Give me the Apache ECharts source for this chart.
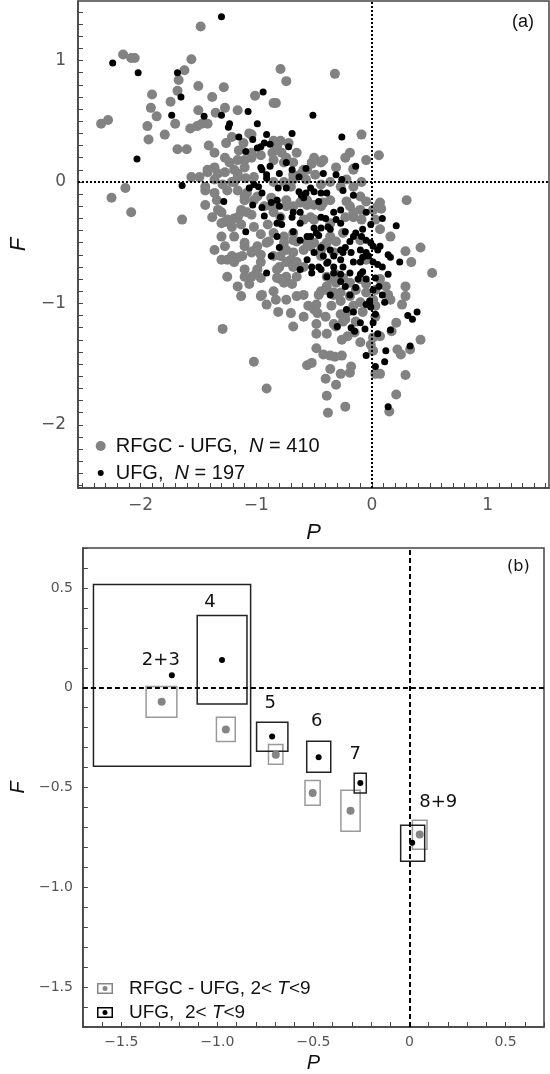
<!DOCTYPE html>
<html>
<head>
<meta charset="utf-8">
<script src="https://cdn.jsdelivr.net/npm/echarts@6/dist/echarts.min.js"></script>
<style>html,body{margin:0;padding:0;background:#fff}#c{width:550px;height:1074px}</style>
</head>
<body>
<div id="c"></div>
<script>
// ---------- Panel (a): individual galaxies [P, F] ----------
const rfgcPF = [
[-2.34,0.48],[-2.28,0.51],[-2.15,1.05],[-2.08,1.02],[-2.05,1.02],[-1.90,0.72],[-1.91,0.61],[-1.86,0.54],[-1.94,0.46],[-1.93,0.35],
[-1.79,0.39],[-1.74,0.66],[-1.68,0.75],[-1.67,0.84],[-1.62,0.92],[-1.56,1.01],[-1.48,1.28],[-1.50,0.79],[-1.38,0.70],[-1.28,0.78],
[-1.70,0.48],[-1.57,0.44],[-1.51,0.46],[-1.47,0.48],[-1.42,0.48],[-1.50,0.59],[-1.35,0.57],[-1.27,0.61],[-1.68,0.27],[-1.60,0.27],
[-1.41,0.30],[-1.16,0.59],[-1.01,0.71],[-0.85,0.65],[-1.26,0.32],[-1.21,0.37],[-1.11,0.32],[-1.04,0.39],[-1.56,0.04],[-1.44,-0.04],
[-1.42,0.08],[-1.33,0.07],[-2.25,-0.13],[-2.13,-0.05],[-2.08,-0.25],[-1.64,-0.31],[-1.44,-0.19],[-1.34,-0.15],[-1.30,-0.25],[-1.27,-0.33],
[-1.19,-0.30],[-1.13,-0.25],[-1.10,-0.15],[-1.25,-0.07],[-1.19,0.00],[-1.16,0.07],[-1.10,0.18],[-1.04,0.20],[-1.10,-0.53],[-1.04,-0.58],
[-1.21,-0.61],[-0.79,0.93],[-0.74,0.83],[-0.32,0.89],[-0.83,0.65],[-0.09,0.39],[0.06,0.22],[-0.79,0.34],[-0.72,0.32],[-0.52,0.15],
[-0.16,0.11],[-0.09,0.00],[0.30,-0.15],[0.07,-0.17],[0.08,-0.22],[0.16,-0.45],[0.29,-0.57],[0.42,-0.54],[-0.16,-0.04],[-0.49,0.06],
[-0.56,0.10],[-0.68,0.06],[-1.06,0.40],[-1.15,0.26],[-0.85,0.34],[-0.86,0.24],[-0.78,0.24],[-1.23,0.16],[-1.16,0.18],[-1.10,0.12],
[-1.19,0.10],[-1.27,0.08],[-1.36,0.12],[-1.42,0.10],[-1.16,0.04],[-1.09,0.03],[-1.02,0.04],[-1.21,0.00],[-1.16,-0.07],[-1.10,-0.12],
[-0.68,0.16],[-0.61,0.07],[-0.52,0.16],[-0.85,0.00],[-0.76,0.00],[-0.68,0.02],[-0.57,0.02],[-0.22,0.02],[-0.16,0.10],[-1.33,-0.23],
[-1.25,-0.31],[-1.16,-0.29],[-1.08,-0.25],[-1.02,-0.15],[-0.87,-0.13],[-0.87,-0.20],[-0.74,-0.15],[-1.21,-0.37],[-1.13,-0.35],[-1.02,-0.37],
[-0.96,-0.43],[-0.89,-0.49],[-0.85,-0.42],[-0.76,-0.45],[-1.10,-0.50],[-1.03,-0.57],[-1.12,-0.61],[-1.19,-0.66],[-1.10,-0.72],[-1.04,-0.78],
[-1.10,-0.78],[-0.80,-0.70],[-0.74,-0.66],[-0.70,-0.64],[-0.68,-0.70],[-0.59,-0.56],[-0.50,-0.50],[-0.65,-0.49],[-0.59,-0.31],[-0.53,-0.29],
[-0.50,-0.19],[-0.56,-0.19],[-0.44,-0.20],[-0.36,-0.15],[-0.22,-0.16],[-0.19,-0.20],[-0.16,-0.29],[-0.10,-0.23],[-0.10,-0.12],[-0.05,-0.16],
[0.05,-0.20],[0.03,-0.31],[-0.36,-0.45],[-0.31,-0.49],[-0.39,-0.50],[-0.74,-0.56],[-0.79,-0.61],[-1.29,-1.21],[-1.02,-1.48],[-0.91,-1.70],
[-1.13,-0.94],[-1.00,-0.75],[-0.96,-0.79],[-0.95,-0.93],[-0.91,-1.01],[-0.83,-0.97],[-0.81,-1.07],[-0.70,-1.08],[-0.79,-0.80],[-0.76,-0.83],
[-0.69,-0.84],[-0.65,-0.94],[-0.59,-0.93],[-0.55,-1.02],[-0.50,-1.05],[-0.47,-1.08],[-0.40,-1.11],[-0.44,-0.90],[-0.48,-1.17],[-0.35,-1.02],
[-0.27,-0.98],[-0.27,-1.09],[-0.23,-1.13],[-0.33,-1.17],[-0.48,-1.37],[-0.42,-1.42],[-0.36,-1.43],[-0.32,-1.44],[-0.26,-1.43],[-0.56,-1.51],
[-0.52,-1.49],[-0.36,-1.54],[-0.27,-1.58],[-0.19,-1.57],[-0.18,-1.52],[-0.40,-1.62],[-0.31,-1.67],[-0.39,-1.76],[-0.38,-1.90],[-0.23,-1.85],
[-0.26,-1.30],[-0.21,-1.27],[-0.15,-1.24],[-0.01,-1.34],[0.01,-1.39],[0.03,-1.58],[-0.31,-1.19],[-0.25,-1.15],[-0.21,-1.07],[-0.16,-1.02],
[-0.10,-0.99],[-0.08,-1.07],[-0.39,-0.86],[-0.33,-0.91],[-0.27,-0.91],[-0.19,-0.94],[-0.14,-0.89],[-0.05,-0.91],[0.01,-0.97],[0.03,-1.11],
[0.52,-0.75],[0.34,-0.66],[0.29,-0.86],[0.29,-0.94],[0.26,-1.01],[0.21,-1.16],[0.17,-1.23],[0.42,-1.30],[0.33,-1.38],[0.22,-1.38],
[0.25,-1.42],[0.29,-1.59],[0.21,-1.75],[0.15,-1.89],[0.07,-1.58],[0.12,-0.86],[0.14,-0.93],[0.16,-0.97],[0.03,-1.02],[-1.21,-0.64],
[-1.15,-0.62],[-0.96,-0.60],[-0.82,-0.72],[-0.96,-0.94],[-0.83,-0.16],[-0.74,-0.20],[-0.68,-0.20],[-0.62,-0.17],[-1.13,-0.23],[-1.04,-0.27],
[-0.85,-0.25],[-0.79,-0.29],[-0.68,-0.58],[-0.65,-0.66],[-0.59,-0.70],[-0.74,-0.78],[-0.65,-0.78],[-0.82,-0.79],[-0.44,-0.61],[-0.39,-0.78],
[-0.31,-0.76],[-0.25,-0.79],[-1.27,-0.53],[-1.36,-0.56],[-1.30,-0.64],[-0.44,-0.02],[-0.36,0.00],[-0.27,-0.04],[-0.59,0.10],[-0.44,0.16],
[-0.82,0.29],[-0.74,0.20],[-0.65,0.24],[-0.19,0.24],[-0.05,0.18],[-1.25,-0.64],[-0.68,-0.68],[-0.35,-0.80],[-0.31,-0.83],[-0.19,-0.83],
[-0.10,-0.80],[-0.05,-0.84],[0.03,-0.89],[0.07,-0.80],[0.01,-1.28],[0.07,-1.27],[-0.46,-0.93],[-0.39,-0.89],[-0.33,-0.93],[-0.48,-1.01],
[-1.36,0.24],[-1.27,0.20],[-1.04,0.24],[-0.96,0.22],[-0.85,0.18],[-0.76,0.16],[-1.49,0.04],[-1.36,0.02],[-1.29,-0.02],[-1.36,-0.09],
[-1.44,-0.07],[-0.99,-0.12],[-1.08,-0.09],[-0.93,-0.20],[-1.38,-0.29],[-1.30,-0.34],[-1.19,-0.45],[-1.30,-0.45],[-0.99,-0.53],[-0.91,-0.50],
[-0.85,-0.61],[-0.96,-0.66],[-0.99,-0.72],[-0.44,-0.56],[-0.56,-0.50],[-0.76,-0.50],[-0.68,-0.48],[-0.50,-0.31],[-0.36,-0.34],[-0.23,-0.29],
[-0.09,-0.31],[0.01,-0.23],[0.07,-0.39],[-0.70,-0.04],[-0.56,-0.15],[-0.42,-0.17],[-0.68,-0.42],[-0.53,-0.53],[-0.42,-0.53],[-0.33,-0.58],
[-0.16,-0.25],[-0.10,-0.48],[-0.25,-0.42],[-0.05,-0.64],[-0.50,0.20],[-0.42,0.18],[-0.31,0.12],[-0.23,0.20],[-1.25,-0.78],[-1.16,-0.86],
[-1.06,-0.84],[-0.85,-0.90],[-0.74,-0.97],[-0.59,-1.11],[-0.68,-1.19],[-0.48,-1.25],[-0.39,-1.25],[-0.14,-1.15],[-0.10,-1.32],[-0.90,-0.35]
];
const ufgPF = [
[-2.24,0.98],[-2.02,0.90],[-1.68,0.90],[-1.65,0.70],[-1.73,0.55],[-1.45,0.54],[-1.30,0.55],[-1.30,1.36],[-2.03,0.19],[-1.64,-0.03],
[-1.24,0.45],[-1.23,0.48],[-1.07,0.58],[-0.94,0.74],[-0.99,0.48],[-1.15,0.37],[-1.03,0.35],[-0.91,0.39],[-1.09,0.25],[-0.99,0.28],
[-0.96,0.29],[-0.88,0.31],[-0.96,0.12],[-0.88,0.13],[-0.91,0.06],[-0.80,0.07],[-1.06,-0.05],[-0.98,-0.04],[-1.28,-0.16],[-1.03,-0.19],
[-0.95,-0.21],[-0.81,-0.05],[-0.82,-0.34],[-1.09,-0.41],[-0.87,-0.61],[-0.51,0.55],[-0.69,0.40],[-0.26,0.37],[-0.74,0.16],[-0.14,0.13],
[-0.42,0.07],[-0.31,0.06],[-0.26,0.02],[-0.63,0.04],[-0.57,-0.09],[-0.44,-0.09],[-0.39,-0.09],[-0.16,-0.11],[-0.25,-0.07],[-0.05,-0.25],
[0.09,-0.30],[0.21,-0.36],[-0.01,-0.35],[-0.08,-0.39],[-0.14,-0.42],[-0.33,-0.25],[-0.31,-0.31],[-0.36,-0.39],[-0.48,-0.42],[-0.56,-0.45],
[-0.68,-0.25],[-0.62,-0.34],[-0.79,-0.29],[-0.82,-0.15],[0.07,-0.53],[0.14,-0.60],[-0.23,-0.54],[-0.18,-0.58],[-0.93,0.32],[-0.72,0.29],
[-0.95,0.10],[-0.69,0.10],[-0.57,0.11],[-0.91,0.03],[-0.95,-0.09],[-0.74,-0.05],[-0.63,-0.08],[-0.61,-0.11],[-0.53,-0.05],[-0.50,-0.08],
[-0.80,-0.20],[-0.46,-0.16],[-0.27,-0.23],[-0.44,-0.29],[-0.40,-0.30],[-0.62,-0.25],[-0.69,-0.29],[-0.93,-0.28],[-0.78,-0.35],[-0.68,-0.41],
[-0.50,-0.38],[-0.44,-0.38],[-0.38,-0.37],[-0.53,-0.45],[-0.46,-0.44],[-0.27,-0.34],[-0.23,-0.41],[-0.09,-0.45],[-0.05,-0.48],[-0.01,-0.50],
[-0.16,-0.45],[-0.19,-0.49],[-0.62,-0.48],[-0.80,-0.54],[-0.44,-0.54],[-0.36,-0.56],[-0.27,-0.56],[-0.56,-0.64],[-0.46,-0.70],[-0.52,-0.70],
[-0.62,-0.72],[-0.38,-0.66],[-0.33,-0.70],[-0.27,-0.64],[-0.25,-0.70],[-0.16,-0.66],[-0.10,-0.66],[-0.08,-0.62],[-0.03,-0.61],[0.01,-0.66],
[0.05,-0.68],[-0.91,-0.75],[-0.19,-0.75],[-0.10,-0.76],[-0.52,-0.75],[-0.44,-0.72],[-0.39,-0.78],[-0.33,-0.75],[-0.27,-0.76],[-0.08,-0.74],
[-0.36,-0.93],[-0.23,-0.86],[-0.19,-0.93],[-0.14,-0.87],[-0.22,-1.05],[-0.16,-1.07],[-0.05,-1.01],[-0.02,-0.98],[-0.30,-1.19],[-0.18,-1.20],
[-0.15,-1.23],[-0.06,-1.21],[0.01,-1.16],[0.03,-1.09],[-0.05,-1.43],[0.03,-1.52],[0.03,-0.79],[0.06,-0.86],[0.09,-0.93],[0.11,-0.99],
[0.14,-0.76],[0.09,-0.70],[0.24,-0.66],[0.16,-0.62],[0.31,-1.10],[0.35,-1.13],[0.39,-1.07],[0.16,-1.22],[0.05,-1.25],[0.12,-1.39],
[0.11,-1.48],[0.33,-1.35],[0.14,-1.85],[-0.01,-1.03],[-0.10,-0.56],[-0.05,-0.58],[0.01,-0.53],[0.05,-0.56],[-0.25,-0.58],[-0.42,-0.61],
[-0.33,-0.61],[-0.50,-0.58],[-0.82,-0.45],[-0.87,-0.17],[-1.02,-0.02],[-0.59,-0.13],[-0.39,-0.67],[-0.27,-0.82],[-0.12,-0.80],[-0.05,-0.80],
[0.01,-0.89],[-0.10,-1.16]
];
const nRFGC = 410;
const nUFG = 197;

// ---------- Panel (b): binned means with error boxes ----------
const groupLabels = ['2+3', '4', '5', '6', '7', '8+9'];
const ufgP    = [-1.237, -0.976, -0.715, -0.473, -0.256, 0.014];
const ufgF    = [0.063, 0.139, -0.245, -0.348, -0.478, -0.777];
const ufgPlo  = [-1.645, -1.105, -0.796, -0.535, -0.288, -0.046];
const ufgPhi  = [-0.827, -0.846, -0.633, -0.410, -0.225, 0.079];
const ufgFlo  = [-0.393, -0.082, -0.318, -0.423, -0.527, -0.869];
const ufgFhi  = [0.517, 0.362, -0.173, -0.268, -0.428, -0.689];
const rfgcP   = [-1.290, -0.956, -0.696, -0.504, -0.307, 0.053];
const rfgcF   = [-0.070, -0.210, -0.336, -0.527, -0.617, -0.736];
const rfgcPlo = [-1.371, -1.005, -0.734, -0.544, -0.357, 0.015];
const rfgcPhi = [-1.211, -0.907, -0.659, -0.465, -0.257, 0.091];
const rfgcFlo = [-0.148, -0.270, -0.383, -0.589, -0.719, -0.810];
const rfgcFhi = [0.006, -0.148, -0.285, -0.465, -0.514, -0.664];

// tick label values
const ticksAxLabels = [-2, -1, 0, 1];
const ticksAyLabels = [-2, -1, 0, 1];
const ticksBxLabels = [-1.5, -1.0, -0.5, 0, 0.5];
const ticksByLabels = [-1.5, -1.0, -0.5, 0, 0.5];

// ---------- style / layout ----------
const labelOffset = { '2+3': [-11, -15], '4': [-12, -58], '5': [-2, -33], '6': [-2, -36], '7': [-5, -29], '8+9': [26, -40] };
function range(a, b, s) { const out = []; const n = Math.round((b - a) / s); for (let i = 0; i <= n; i++) out.push(Math.round((a + i * s) * 10) / 10); return out; }
const minusA = v => (v < 0 ? '\u2212' + Math.abs(v) : String(v));
const minusB = v => (v === 0 ? '0' : (v < 0 ? '\u2212' : '') + Math.abs(v).toFixed(1));
const AX = '#444';
const tickFont = 'DejaVu Sans';
const legFont = 'Liberation Sans';
const boxIcon = 'path://M0,0 H16 V11 H0 Z M1.5,1.5 V9.5 H14.5 V1.5 Z M5.5,5.5 A2.5,2.5 0 1,0 10.5,5.5 A2.5,2.5 0 1,0 5.5,5.5 Z';

function axisCommon(tickVals, labelVals, fmt, fs, margin) {
  return {
    type: 'value', splitLine: { show: false },
    axisLine: { show: true, onZero: false, lineStyle: { color: AX, width: 1.5 } },
    axisTick: { show: true, inside: true, length: 5, customValues: tickVals, lineStyle: { color: AX, width: 1 } },
    axisLabel: { customValues: labelVals, formatter: fmt, color: '#555', fontSize: fs, fontFamily: tickFont, margin: margin }
  };
}

const chart = echarts.init(document.getElementById('c'), null, { renderer: 'canvas' });
const option = {
  animation: false,
  grid: [
    { left: 72, top: 1, width: 477, height: 487, show: true, borderColor: AX, borderWidth: 1.5, backgroundColor: 'transparent' },
    { left: 78, top: 548, width: 466, height: 481, show: true, borderColor: AX, borderWidth: 1.5, backgroundColor: 'transparent' }
  ],
  xAxis: [
    Object.assign(axisCommon(range(-2.5, 1.5, 0.1), ticksAxLabels, minusA, 17, 9), {
      gridIndex: 0, min: -2.54, max: 1.53,
      name: 'P', nameLocation: 'middle', nameGap: 34,
      nameTextStyle: { fontStyle: 'italic', fontSize: 22, fontFamily: legFont, color: '#111' } }),
    Object.assign(axisCommon(range(-1.7, 0.7, 0.1), ticksBxLabels, minusB, 14, 8), {
      gridIndex: 1, min: -1.7, max: 0.7,
      name: 'P', nameLocation: 'middle', nameGap: 26,
      nameTextStyle: { fontStyle: 'italic', fontSize: 20, fontFamily: legFont, color: '#111' } })
  ],
  yAxis: [
    Object.assign(axisCommon(range(-2.5, 1.4, 0.1), ticksAyLabels, minusA, 17, 12), {
      gridIndex: 0, min: -2.52, max: 1.49,
      name: 'F', nameLocation: 'middle', nameGap: 40, nameRotate: 90,
      nameTextStyle: { fontStyle: 'italic', fontSize: 22, fontFamily: legFont, color: '#111' } }),
    Object.assign(axisCommon(range(-1.7, 0.7, 0.1), ticksByLabels, minusB, 14, 10), {
      gridIndex: 1, min: -1.7, max: 0.7,
      name: 'F', nameLocation: 'middle', nameGap: 44, nameRotate: 90,
      nameTextStyle: { fontStyle: 'italic', fontSize: 20, fontFamily: legFont, color: '#111' } })
  ],
  legend: [
    { data: ['RFGC - UFG'], left: 90.7, top: 431, itemWidth: 10, itemHeight: 10, icon: 'circle', selectedMode: false,
      formatter: () => 'RFGC - UFG,  {i|N} = ' + nRFGC,
      textStyle: { fontFamily: legFont, fontSize: 20, color: '#111', padding: [0, 0, 0, 5],
        rich: { i: { fontStyle: 'italic', fontFamily: legFont, fontSize: 20, color: '#111' } } } },
    { data: ['UFG'], left: 92.7, top: 458, itemWidth: 6, itemHeight: 6, icon: 'circle', selectedMode: false,
      formatter: () => 'UFG,  {i|N} = ' + nUFG,
      textStyle: { fontFamily: legFont, fontSize: 20, color: '#111', padding: [0, 0, 0, 7],
        rich: { i: { fontStyle: 'italic', fontFamily: legFont, fontSize: 20, color: '#111' } } } },
    { data: ['RFGC - UFG bins'], left: 92, top: 974, itemWidth: 16, itemHeight: 11, icon: boxIcon, selectedMode: false,
      formatter: () => 'RFGC - UFG, 2< {i|T}<9',
      textStyle: { fontFamily: legFont, fontSize: 19, color: '#111', padding: [0, 0, 0, 11],
        rich: { i: { fontStyle: 'italic', fontFamily: legFont, fontSize: 19, color: '#111' } } } },
    { data: ['UFG bins'], left: 92, top: 998, itemWidth: 16, itemHeight: 11, icon: boxIcon, selectedMode: false,
      formatter: () => 'UFG,  2< {i|T}<9',
      textStyle: { fontFamily: legFont, fontSize: 19, color: '#111', padding: [0, 0, 0, 11],
        rich: { i: { fontStyle: 'italic', fontFamily: legFont, fontSize: 19, color: '#111' } } } }
  ],
  graphic: [
    { type: 'text', left: 512, top: 13, style: { text: '(a)', fontSize: 18, fontFamily: legFont, fill: '#111' } },
    { type: 'text', left: 507, top: 559, style: { text: '(b)', fontSize: 16, fontFamily: tickFont, fill: '#111' } }
  ],
  series: [
    { name: 'RFGC - UFG', type: 'scatter', xAxisIndex: 0, yAxisIndex: 0, data: rfgcPF,
      symbol: 'circle', symbolSize: 10, itemStyle: { color: '#828282', opacity: 1 } },
    { name: 'UFG', type: 'scatter', xAxisIndex: 0, yAxisIndex: 0, data: ufgPF,
      symbol: 'circle', symbolSize: 7, itemStyle: { color: '#000', opacity: 1 },
      markLine: { silent: true, symbol: 'none', label: { show: false }, animation: false,
        lineStyle: { type: [2, 2], color: '#000', width: 2 },
        data: [{ xAxis: 0 }, { yAxis: 0 }] } },
    // panel (b) boxes
    { name: 'rfgcBox', type: 'custom', xAxisIndex: 1, yAxisIndex: 1, silent: true,
      data: groupLabels.map((g, i) => [rfgcPlo[i], rfgcPhi[i], rfgcFlo[i], rfgcFhi[i]]),
      encode: { x: [0, 1], y: [2, 3] },
      renderItem: (params, api) => {
        const a = api.coord([api.value(0), api.value(3)]), b = api.coord([api.value(1), api.value(2)]);
        return { type: 'rect', shape: { x: a[0], y: a[1], width: b[0] - a[0], height: b[1] - a[1] },
          style: { fill: 'none', stroke: '#9a9a9a', lineWidth: 1.5 } };
      } },
    { name: 'ufgBox', type: 'custom', xAxisIndex: 1, yAxisIndex: 1, silent: true,
      data: groupLabels.map((g, i) => [ufgPlo[i], ufgPhi[i], ufgFlo[i], ufgFhi[i]]),
      encode: { x: [0, 1], y: [2, 3] },
      renderItem: (params, api) => {
        const a = api.coord([api.value(0), api.value(3)]), b = api.coord([api.value(1), api.value(2)]);
        return { type: 'rect', shape: { x: a[0], y: a[1], width: b[0] - a[0], height: b[1] - a[1] },
          style: { fill: 'none', stroke: '#222', lineWidth: 1.5 } };
      } },
    { name: 'RFGC - UFG bins', type: 'scatter', xAxisIndex: 1, yAxisIndex: 1,
      data: rfgcP.map((p, i) => [p, rfgcF[i]]), symbol: 'circle', symbolSize: 8,
      itemStyle: { color: '#858585', opacity: 1 },
      markLine: { silent: true, symbol: 'none', label: { show: false }, animation: false,
        lineStyle: { type: [5, 3], color: '#000', width: 2 },
        data: [{ xAxis: 0 }, { yAxis: 0 }] } },
    { name: 'UFG bins', type: 'scatter', xAxisIndex: 1, yAxisIndex: 1,
      data: ufgP.map((p, i) => [p, ufgF[i]]), symbol: 'circle', symbolSize: 6,
      itemStyle: { color: '#000', opacity: 1 } },
    { name: 'binLabels', type: 'custom', xAxisIndex: 1, yAxisIndex: 1, silent: true,
      data: ufgP.map((p, i) => [p, ufgF[i]]),
      renderItem: (params, api) => {
        const c = api.coord([api.value(0), api.value(1)]);
        const g = groupLabels[params.dataIndex];
        const off = labelOffset[g];
        return { type: 'text', x: c[0] + off[0], y: c[1] + off[1],
          style: { text: g, fontSize: 18, fontFamily: tickFont, fill: '#111', align: 'center', verticalAlign: 'middle' } };
      } }
  ]
};
chart.setOption(option);
</script>
</body>
</html>
